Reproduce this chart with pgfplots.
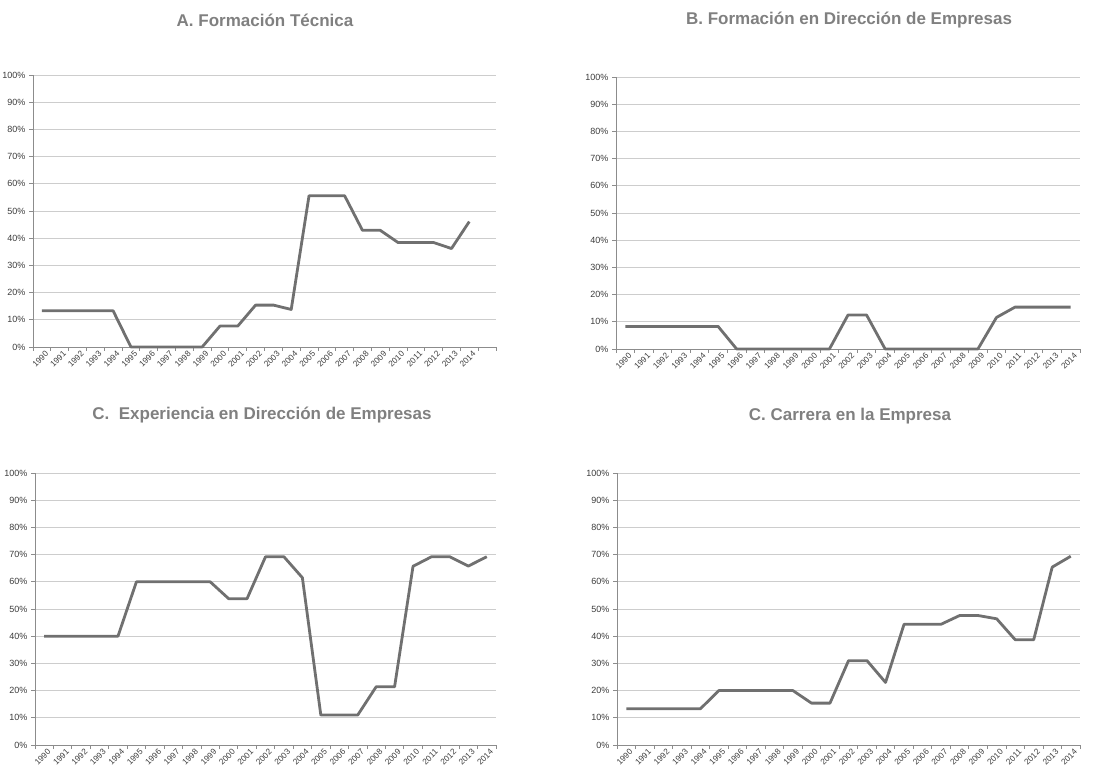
\documentclass[border=0pt]{standalone}
\usepackage{fontspec}
\setmainfont{Liberation Sans}
\usepackage{pgfplots}
\pgfplotsset{compat=1.18}
\definecolor{linegray}{RGB}{112,112,112}
\definecolor{gridgray}{RGB}{205,205,205}
\definecolor{axisgray}{RGB}{140,140,140}
\definecolor{textgray}{RGB}{60,60,60}
\definecolor{titlegray}{RGB}{128,128,128}
\pgfplotsset{panel/.style={
  scale only axis, height=272pt,
  ymin=0, ymax=100, xmin=1989.5,
  axis lines*=left,
  axis line style={draw=axisgray, line width=0.8pt},
  ytick={0,10,...,100}, yticklabel={\pgfmathprintnumber{\tick}\%},
  ymajorgrids, grid style={gridgray, line width=0.8pt},
  xticklabels={},
  extra x ticks={1990,1991,...,2014},
  extra x tick style={major tick length=0pt, grid=none,
    tick label style={rotate=45, anchor=north east, xshift=3pt, yshift=-1pt, font=\fontsize{8.3}{9}\selectfont}},
  /pgf/number format/1000 sep={},
  /pgf/number format/assume math mode=true,
  tick align=outside, major tick length=4pt,
  tick style={axisgray, line width=0.8pt},
  tick label style={textgray, font=\fontsize{9}{10}\selectfont},
  clip=false},
  ser/.style={linegray, line width=2.8pt, line join=round, mark=none}
}
\begin{document}
\begin{tikzpicture}
\useasboundingbox (0pt,0pt) rectangle (1115pt,773pt);
% A
\begin{axis}[panel, at={(33pt,426pt)}, anchor=south west, width=463pt,
  xmax=2015.5, xtick={1989.5,1990.5,...,2015.5}]
\addplot[ser] coordinates {(1990,13.3)(1991,13.3)(1992,13.3)(1993,13.3)(1994,13.3)
 (1995,0)(1996,0)(1997,0)(1998,0)(1999,0)(2000,7.7)(2001,7.7)(2002,15.4)(2003,15.4)
 (2004,13.8)(2005,55.6)(2006,55.6)(2007,55.6)(2008,42.9)(2009,42.9)(2010,38.4)
 (2011,38.4)(2012,38.4)(2013,36.2)(2014,46.1)};
\end{axis}
% B
\begin{axis}[panel, at={(616pt,424pt)}, anchor=south west, width=464pt,
  xmax=2014.5, xtick={1989.5,1990.5,...,2014.5}]
\addplot[ser] coordinates {(1990,8.3)(1991,8.3)(1992,8.3)(1993,8.3)(1994,8.3)(1995,8.3)
 (1996,0)(1997,0)(1998,0)(1999,0)(2000,0)(2001,0)(2002,12.5)(2003,12.5)
 (2004,0)(2005,0)(2006,0)(2007,0)(2008,0)(2009,0)(2010,11.6)
 (2011,15.4)(2012,15.4)(2013,15.4)(2014,15.4)};
\end{axis}
% C
\begin{axis}[panel, at={(35pt,28pt)}, anchor=south west, width=461pt,
  xmax=2014.5, xtick={1989.5,1990.5,...,2014.5}]
\addplot[ser] coordinates {(1990,40)(1991,40)(1992,40)(1993,40)(1994,40)
 (1995,60)(1996,60)(1997,60)(1998,60)(1999,60)(2000,53.8)(2001,53.8)(2002,69.2)(2003,69.2)
 (2004,61.5)(2005,11)(2006,11)(2007,11)(2008,21.4)(2009,21.4)(2010,65.7)
 (2011,69.2)(2012,69.2)(2013,65.8)(2014,69.2)};
\end{axis}
% D
\begin{axis}[panel, at={(617pt,28pt)}, anchor=south west, width=463pt,
  xmax=2014.5, xtick={1989.5,1990.5,...,2014.5}]
\addplot[ser] coordinates {(1990,13.3)(1991,13.3)(1992,13.3)(1993,13.3)(1994,13.3)
 (1995,20)(1996,20)(1997,20)(1998,20)(1999,20)(2000,15.4)(2001,15.4)(2002,31)(2003,31)
 (2004,23)(2005,44.4)(2006,44.4)(2007,44.4)(2008,47.6)(2009,47.6)(2010,46.4)
 (2011,38.7)(2012,38.7)(2013,65.4)(2014,69.4)};
\end{axis}
\begin{scope}[every node/.style={text=titlegray, font=\fontsize{17}{20}\selectfont\bfseries}]
\node at (265pt,753pt) {A. Formación Técnica};
\node at (849pt,753pt) {B. Formación en Dirección de Empresas};
\node at (262pt,358pt) {C.\ \ Experiencia en Dirección de Empresas};
\node at (850pt,357pt) {C. Carrera en la Empresa};
\end{scope}
\end{tikzpicture}
\end{document}
